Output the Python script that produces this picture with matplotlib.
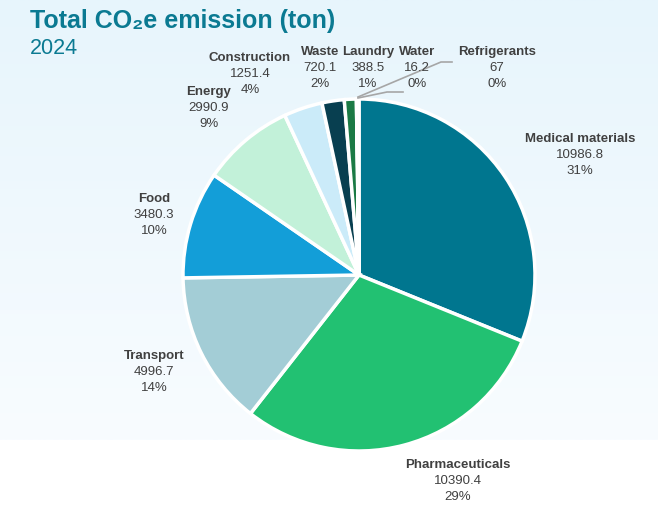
import numpy as np
import matplotlib
matplotlib.use("Agg")
import matplotlib.pyplot as plt
from matplotlib.lines import Line2D
from matplotlib.colors import LinearSegmentedColormap

plt.rcParams['font.family'] = ['Liberation Sans', 'DejaVu Sans']

# data
categories = ['Medical materials', 'Pharmaceuticals', 'Transport', 'Food', 'Energy',
              'Construction', 'Waste', 'Laundry', 'Water', 'Refrigerants']
emissions = [10986.8, 10390.4, 4996.7, 3480.3, 2990.9, 1251.4, 720.1, 388.5, 16.2, 67]
value_labels = ['10986.8', '10390.4', '4996.7', '3480.3', '2990.9', '1251.4', '720.1', '388.5', '16.2', '67']
pct_labels = ['31%', '29%', '14%', '10%', '9%', '4%', '2%', '1%', '0%', '0%']
colors = ['#00768F', '#22C172', '#A3CDD6', '#139ED8', '#C2F1D9',
          '#CBEBF9', '#083F50', '#1B7A45', '#7FD1AE', '#5FB0C8']

W, H = 658, 532
fig = plt.figure(figsize=(W / 100, H / 100), dpi=100)
fig.patch.set_facecolor('white')

def fx(x):
    return x / W

def fy(y):
    return 1 - y / H

# background gradient panel
bg = fig.add_axes([0, fy(440), 1, fy(0) - fy(440)])
cmap = LinearSegmentedColormap.from_list('bg', ['#F8FCFF', '#E7F5FC'])
bg.imshow(np.linspace(0, 1, 256).reshape(-1, 1)[::-1], aspect='auto', cmap=cmap,
          extent=[0, 1, 0, 1])
bg.axis('off')

# pie
cx, cy, r = 359, 275, 176
ax = fig.add_axes([fx(cx - r), fy(cy + r), (2 * r) / W, (2 * r) / H])
ax.pie(emissions, colors=colors, startangle=90, counterclock=False,
       wedgeprops=dict(edgecolor='white', linewidth=2.5))
ax.set_xlim(-1, 1)
ax.set_ylim(-1, 1)
ax.set_aspect('auto')
ax.axis('off')

# label positions (pixel centres of the first line)
label_pos = [(580, 139), (458, 465), (154, 356), (154, 199), (209, 92),
             (250, 58), (320, 52), (368, 52), (417, 52), (497, 52)]

for name, val, pct, (x, y) in zip(categories, value_labels, pct_labels, label_pos):
    fig.text(fx(x), fy(y), name, ha='center', va='center', fontsize=9.5,
             fontweight='bold', color='#404040')
    fig.text(fx(x), fy(y + 16), val, ha='center', va='center', fontsize=9.5,
             color='#404040')
    fig.text(fx(x), fy(y + 32), pct, ha='center', va='center', fontsize=9.5,
             color='#404040')

# leader lines for the tiny slices
for pts in ([(452, 62), (441, 62), (358, 97)], [(403, 92), (387, 92), (358, 98)]):
    fig.add_artist(Line2D([fx(p[0]) for p in pts], [fy(p[1]) for p in pts],
                          color='#A6A6A6', lw=1.2, transform=fig.transFigure))

# title
fig.text(fx(30), fy(28), 'Total CO\u2082e emission (ton)', ha='left', va='baseline',
         fontsize=18, fontweight='bold', color='#0B7A92')
fig.text(fx(30), fy(54), '2024', ha='left', va='baseline', fontsize=15.5,
         color='#0B7A92')

plt.savefig('out.png', dpi=100, facecolor=fig.get_facecolor())
